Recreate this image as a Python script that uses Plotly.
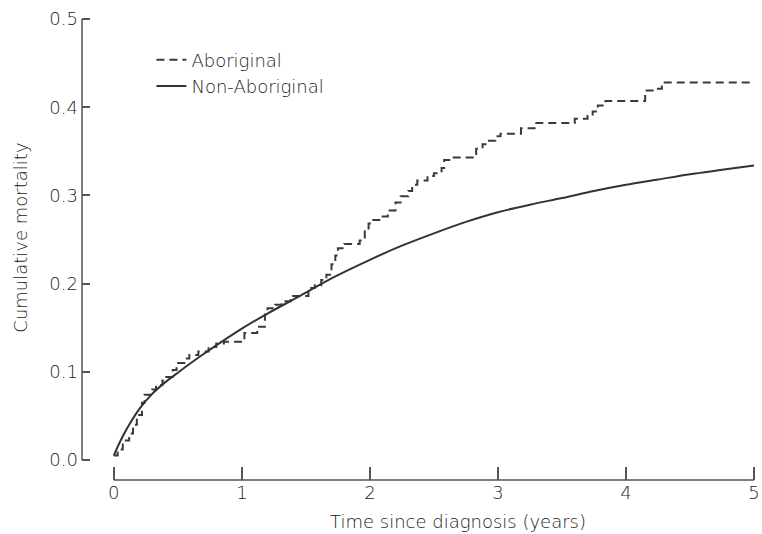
import plotly.graph_objects as go

# Non-Aboriginal (smooth cumulative mortality curve)
non_abo_t = [0, 0.03, 0.07, 0.12, 0.2, 0.3, 0.4, 0.5, 0.67, 0.8, 1.0, 1.2, 1.44, 1.7,
             2.0, 2.25, 2.5, 2.75, 3.0, 3.25, 3.5, 3.75, 4.0, 4.25, 4.5, 4.75, 5.0]
non_abo_y = [0.005, 0.015, 0.027, 0.040, 0.058, 0.075, 0.088, 0.099, 0.117, 0.130,
             0.149, 0.166, 0.185, 0.206, 0.227, 0.243, 0.257, 0.270, 0.281, 0.2895,
             0.297, 0.305, 0.312, 0.318, 0.324, 0.329, 0.334]

# Aboriginal (Kaplan-Meier style step curve)
abo_t = [0, 0.03, 0.07, 0.12, 0.15, 0.18, 0.22, 0.24, 0.30, 0.33, 0.38, 0.41, 0.46,
         0.49, 0.55, 0.59, 0.66, 0.74, 0.80, 0.86, 1.02, 1.12, 1.18, 1.20, 1.26,
         1.31, 1.38, 1.52, 1.57, 1.62, 1.66, 1.70, 1.73, 1.75, 1.80, 1.92, 1.96,
         1.99, 2.01, 2.10, 2.14, 2.20, 2.24, 2.30, 2.33, 2.37, 2.45, 2.50, 2.56,
         2.58, 2.62, 2.83, 2.88, 2.92, 2.98, 3.02, 3.18, 3.30, 3.60, 3.70, 3.74,
         3.78, 3.84, 4.15, 4.22, 4.28, 5.0]
abo_y = [0.005, 0.012, 0.022, 0.030, 0.040, 0.051, 0.065, 0.074, 0.080, 0.085, 0.090,
         0.094, 0.102, 0.110, 0.115, 0.119, 0.123, 0.128, 0.132, 0.134, 0.144, 0.151,
         0.165, 0.172, 0.176, 0.180, 0.186, 0.195, 0.198, 0.204, 0.210, 0.222, 0.232,
         0.240, 0.245, 0.249, 0.259, 0.268, 0.272, 0.276, 0.283, 0.292, 0.299, 0.305,
         0.312, 0.317, 0.322, 0.325, 0.331, 0.340, 0.343, 0.353, 0.358, 0.362, 0.367,
         0.370, 0.376, 0.382, 0.387, 0.390, 0.395, 0.402, 0.407, 0.419, 0.421, 0.428,
         0.428]

x_ticks = [0, 1, 2, 3, 4, 5]
y_ticks = [0.0, 0.1, 0.2, 0.3, 0.4, 0.5]

FONT = "DejaVu Sans"
FS = 18
W = 200
TXT = "#222222"
AX = "#555555"

fig = go.Figure()
fig.add_trace(go.Scatter(
    x=abo_t, y=abo_y, mode="lines", name="Aboriginal",
    line=dict(color="#3a3a3a", width=2, dash="8px,5px", shape="hv"),
))
fig.add_trace(go.Scatter(
    x=non_abo_t, y=non_abo_y, mode="lines", name="Non-Aboriginal",
    line=dict(color="#333333", width=2, shape="spline", smoothing=0.8),
))

fig.update_layout(
    width=762, height=534,
    margin=dict(l=82, r=2, t=15, b=54),
    paper_bgcolor="white", plot_bgcolor="white",
    font=dict(family=FONT, size=FS, color=TXT, weight=W),
    showlegend=True,
    legend=dict(x=0.103, y=0.943, xanchor="left", yanchor="top", tracegroupgap=0,
                bgcolor="rgba(0,0,0,0)", font=dict(size=FS, color=TXT, weight=W)),
    xaxis=dict(range=[-0.2484, 5.0155], tickvals=x_ticks, ticktext=[str(v) for v in x_ticks],
               showgrid=False, zeroline=False, showline=False, ticklabeloverflow="allow",
               ticks="inside", ticklen=13, tickwidth=1.5, tickcolor=AX),
    yaxis=dict(range=[-0.02268, 0.50454], tickvals=y_ticks, tickformat=".1f",
               showgrid=False, zeroline=False, showline=False, ticklabelstandoff=3,
               ticks="inside", ticklen=8, tickwidth=1.5, tickcolor=AX),
    shapes=[
        dict(type="line", xref="x", yref="paper", x0=0, x1=5, y0=0, y1=0,
             line=dict(color=AX, width=1.5)),
        dict(type="line", xref="paper", yref="y", x0=0, x1=0, y0=0, y1=0.5,
             line=dict(color=AX, width=1.5)),
    ],
    annotations=[
        dict(text="Time since diagnosis (years)", xref="paper", yref="paper",
             x=0.5575, y=-0.0903, xanchor="center", yanchor="middle",
             showarrow=False, font=dict(size=FS, color=TXT, weight=W)),
        dict(text="Cumulative mortality", xref="paper", yref="paper",
             x=-0.0914, y=0.522, xanchor="center", yanchor="middle", textangle=-90,
             showarrow=False, font=dict(size=FS, color=TXT, weight=W)),
    ],
)

fig.write_html("out.html")
